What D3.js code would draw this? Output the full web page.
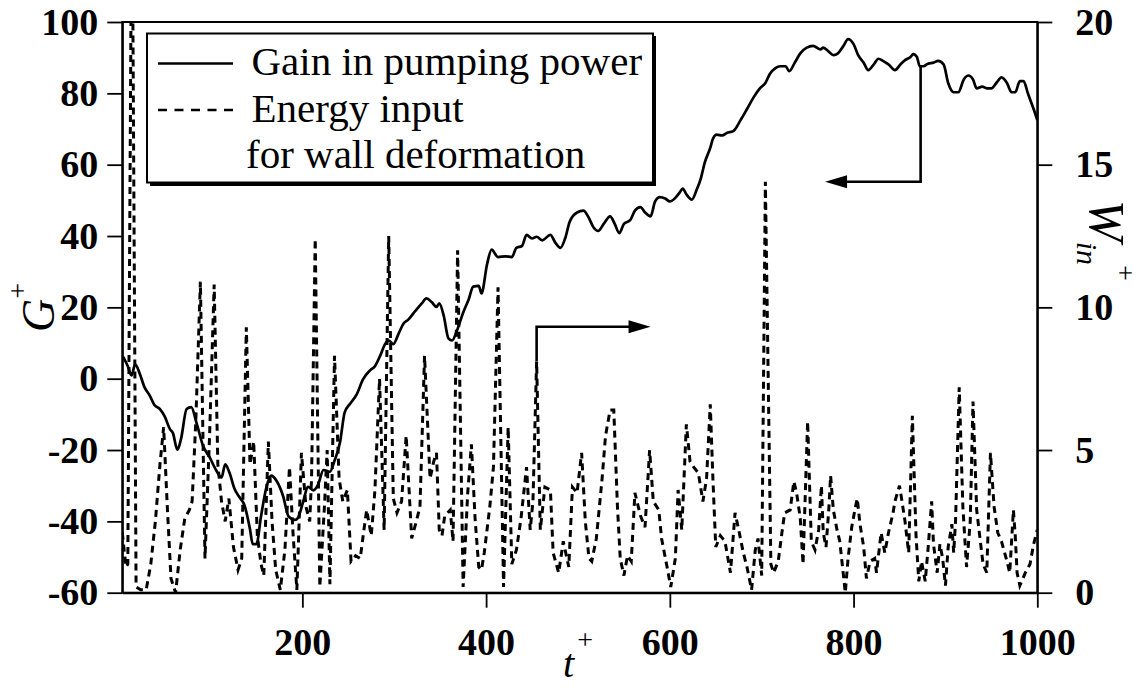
<!DOCTYPE html>
<html>
<head>
<meta charset="utf-8">
<script src="https://cdn.jsdelivr.net/npm/d3@7"></script>
<style>
  body { margin: 0; background: #fff; }
  svg { display: block; }
</style>
</head>
<body>
<div id="chart-container" style="width:1142px;height:688px"></div>
<script>
// axis ticks
const tTicks = [200, 400, 600, 800, 1000]
const gTicks = [-60, -40, -20, 0, 20, 40, 60, 80, 100]
const wTicks = [0, 5, 10, 15, 20]

// gain in pumping power G+ (left axis)
const gainT = [5, 10, 14, 18, 23, 28, 34, 39, 45, 50, 56, 59, 64, 68, 74, 79, 85, 92, 99, 106,
  112, 116, 121, 126, 132, 137, 143, 146, 150, 155, 161, 166, 172, 179, 185, 192, 195, 201,
  206, 212, 217, 223, 230, 235, 241, 246, 252, 259, 266, 274, 279, 285, 290, 294, 299, 305,
  310, 315, 323, 330, 335, 341, 346, 349, 354, 359, 363, 368, 375, 381, 386, 392, 395, 401,
  406, 413, 421, 428, 433, 439, 444, 450, 455, 461, 470, 475, 481, 486, 491, 499, 506, 511,
  517, 522, 528, 535, 540, 545, 550, 557, 562, 568, 573, 579, 584, 589, 595, 600, 606, 611,
  614, 618, 624, 629, 634, 638, 644, 647, 651, 657, 662, 669, 677, 684, 691, 698, 704, 709,
  715, 720, 726, 730, 736, 742, 749, 756, 764, 767, 773, 778, 783, 789, 794, 800, 805, 811,
  816, 822, 827, 832, 838, 845, 851, 856, 862, 865, 869, 872, 876, 881, 887, 892, 898, 903,
  909, 914, 920, 925, 930, 934, 940, 945, 950, 956, 961, 967, 972, 976, 981, 985, 990, 996, 1000]
const gainG = [6.1, 3.5, 0.9, 4, 1.4, -2.3, -4.8, -7.4, -8.5, -10.5, -14.2, -15.2, -19.9, -16.8,
  -8.5, -8, -12.6, -18.9, -22, -25.6, -27.7, -24, -26.6, -30.8, -33.4, -35.5, -42.2, -46.4,
  -46.4, -38.6, -30.3, -27.2, -28.7, -32.9, -38.6, -39.6, -39.1, -34.4, -30.3, -31.3, -29.8,
  -25.6, -26.1, -23, -17.8, -9.5, -7, -4.5, -0.2, 2.4, 3.5, 6.6, 9.7, 10.7, 9.7, 12.8, 15.4,
  16.5, 19, 21.1, 22.5, 21.4, 20.1, 21.1, 17.5, 11.3, 10.7, 13.3, 18.5, 22.2, 25.8, 26, 23.9,
  32, 36.2, 34.1, 34.3, 34.1, 36.7, 37.2, 40.3, 39.3, 39.8, 38.8, 40.3, 38.3, 36.7, 39.3, 44,
  46.6, 47.1, 45.5, 42.4, 41.4, 43.4, 45.5, 43.4, 40.8, 43.4, 44.5, 47.1, 48.1, 46.6, 45.5,
  49.7, 50.9, 50.5, 49.7, 50.7, 52.3, 53.3, 51.7, 50.2, 52.8, 56.4, 60.6, 64.7, 67.3, 68.4,
  68.2, 68.9, 69.4, 72.5, 75.6, 78.8, 81.4, 82.9, 85.5, 87.1, 87.6, 87.6, 86.2, 88.6, 91.2,
  92.8, 93.3, 92.3, 92.8, 91.7, 90.7, 91.2, 93.3, 95.2, 93.8, 90.7, 88.6, 86.5, 88.1, 89.7,
  89.1, 88.1, 86.5, 88.1, 89.3, 90.2, 91, 90.2, 87.6, 87.6, 88.3, 88.6, 89.1, 88.1, 82.9,
  80.3, 80.3, 83.9, 85, 83.9, 81.4, 81.9, 81.4, 81.4, 83.1, 84.5, 82.9, 80.3, 80.3, 83.4,
  83.4, 79.8, 75.6, 72.5]

// energy input for wall deformation W_in+ (right axis)
const energyT = [4, 8, 10, 14.5, 19, 24, 30, 35, 40, 45, 49, 53, 57, 62, 67, 72, 77, 80, 84, 89,
  94, 99, 104, 108, 112, 116, 120, 125, 130, 134, 139, 143, 147, 151, 155, 158, 163, 167, 171,
  176, 181, 186, 190, 194, 199, 204, 208, 210, 214, 219, 224, 227, 230, 235, 240, 244, 249,
  253, 258, 263, 267, 270, 275, 279, 284, 289, 294, 299, 303, 308, 313, 319, 324, 328, 333,
  339, 343, 346, 349, 352, 355, 361, 364, 369, 375, 380, 384, 388, 392, 395, 398, 404, 408,
  413, 419, 424, 428, 433, 438, 444, 448, 451, 455, 459, 464, 470, 473, 479, 484, 490, 494,
  499, 504, 508, 512, 515, 520, 526, 530, 535, 539, 543, 546, 550, 554, 558, 562, 568, 573,
  578, 582, 588, 591, 597, 601, 606, 609, 613, 618, 622, 626, 631, 636, 640, 644, 647, 650,
  655, 660, 666, 671, 675, 680, 684, 689, 693, 696, 700, 704, 710, 713, 718, 722, 725, 731,
  735, 738, 742, 745, 750, 754, 758, 762, 765, 767, 770, 773, 775, 778, 782, 785, 789, 791,
  794, 798, 802, 804, 807, 811, 814, 818, 823, 825, 830, 834, 838, 843, 845, 850, 852, 856,
  860, 864, 868, 871, 874, 878, 881, 885, 887, 891, 894, 897, 900, 903, 907, 909, 911, 915,
  919, 923, 927, 930, 934, 938, 941, 945, 949, 953, 957, 961, 967, 970, 974, 976, 978, 981,
  987, 992, 996, 1000]
const energyW = [2.1, 0.9, 1.0, 26, 0.2, 0.1, 0.1, 1.0, 2.5, 4.5, 5.8, 3.0, 0.5, 0.0, 1.5, 2.6,
  2.9, 3.2, 6.0, 10.9, 1.2, 5.5, 10.8, 4.5, 3.2, 2.5, 3.3, 1.6, 0.8, 1.2, 9.3, 4.5, 5.3, 2.0,
  1.0, 0.6, 5.3, 2.5, 0.8, 0.1, 1.5, 4.4, 2.0, 0.1, 4.9, 3.0, 2.5, 4.0, 12.4, 0.2, 3.0, 5.0,
  0.3, 8.3, 4.0, 3.2, 3.6, 1.1, 1.3, 1.2, 2.2, 2.9, 2.0, 3.6, 7.5, 2.2, 12.5, 3.3, 2.8, 3.2,
  5.5, 1.9, 2.5, 3.0, 8.3, 4.0, 4.6, 4.9, 2.2, 2.0, 2.7, 2.9, 1.8, 12.0, 0.2, 3.5, 5.2, 2.6,
  0.9, 0.8, 1.4, 3.0, 4.4, 10.7, 0.2, 5.8, 1.0, 1.5, 2.6, 4.4, 2.2, 3.2, 8.1, 2.2, 3.7, 3.6,
  1.4, 0.7, 1.8, 0.9, 3.7, 3.5, 4.9, 2.5, 1.2, 1.1, 1.9, 3.9, 5.5, 6.4, 6.4, 3.0, 1.2, 0.6,
  1.3, 1.1, 3.5, 2.7, 2.3, 5.0, 3.2, 2.9, 1.9, 0.9, 0.2, 1.2, 3.6, 2.2, 5.9, 4.6, 4.4, 4.2,
  3.2, 4.0, 6.6, 3.9, 1.6, 2.0, 1.8, 0.7, 2.8, 2.2, 1.4, 0.9, 0.1, 1.5, 1.9, 0.6, 14.4, 1.0,
  0.7, 1.1, 2.1, 2.8, 2.9, 3.9, 3.5, 2.6, 1.0, 6.0, 1.8, 1.5, 2.2, 3.75, 2.1, 1.6, 2.9, 4.1,
  2.9, 2.2, 1.8, 0.6, 0.0, 1.2, 2.3, 3.0, 3.3, 2.4, 1.6, 0.5, 1.1, 1.2, 0.7, 2.1, 1.4, 2.1,
  2.8, 3.2, 3.75, 3.35, 2.5, 1.4, 6.2, 2.0, 0.4, 1.1, 0.4, 1.5, 3.2, 1.7, 0.7, 1.7, 1.2, 0.25,
  1.6, 2.4, 1.4, 2.5, 7.2, 3.0, 0.9, 2.5, 6.7, 2.9, 1.8, 1.0, 0.7, 4.9, 3.0, 2.1, 1.8, 1.1,
  0.7, 2.9, 2.0, 0.7, 0.25, 0.7, 1.0, 1.7, 2.2]

// annotation arrows (data coordinates)
const arrowWT = [455, 455, 579]
const arrowWV = [8.1, 9.32, 9.32]
const arrowGT = [873, 873, 769]
const arrowGV = [87.6, 55.2, 55.2]

const legendLabels = ["Gain in pumping power", "Energy input", "for wall deformation"]

const serif = "'Liberation Serif', 'Tinos', 'Times New Roman', 'DejaVu Serif', serif"
const width = 1142
const height = 688
const plot = { left: 122.3, right: 1037.3, top: 22, bottom: 592.7 }

const svg = d3.select("#chart-container").append("svg")
  .attr("width", width).attr("height", height)

const x = d3.scaleLinear().domain([4, 1000]).range([plot.left, plot.right])
const yG = d3.scaleLinear().domain([-60, 100]).range([plot.bottom, plot.top])
const yW = d3.scaleLinear().domain([0, 20]).range([plot.bottom, plot.top])

svg.append("clipPath").attr("id", "clip")
  .append("rect")
  .attr("x", plot.left).attr("y", plot.top)
  .attr("width", plot.right - plot.left).attr("height", plot.bottom - plot.top)

// axes (plain hyphen minus, no thousands separator)
const plain = (d) => String(d).replace("\u2212", "-")
const tickFont = (g) => g.attr("font-family", null).attr("font-size", null)
  .selectAll("text")
  .style("font-size", "38px").style("font-weight", "bold")

svg.append("g").attr("transform", `translate(${plot.left},0)`)
  .call(d3.axisLeft(yG).tickValues(gTicks).tickFormat(plain)
    .tickSize(15).tickSizeOuter(0).tickPadding(9))
  .call(tickFont)
svg.append("g").attr("transform", `translate(${plot.right},0)`)
  .call(d3.axisRight(yW).tickValues(wTicks).tickFormat(plain)
    .tickSize(15).tickSizeOuter(0).tickPadding(23))
  .call(tickFont)
svg.append("g").attr("transform", `translate(0,${plot.bottom})`)
  .call(d3.axisBottom(x).tickValues(tTicks).tickFormat(plain)
    .tickSize(15).tickSizeOuter(0).tickPadding(20))
  .call(tickFont)

svg.selectAll(".tick line").attr("stroke", "#000").attr("stroke-width", 1.8)
svg.selectAll(".domain").attr("stroke", "#000").attr("stroke-width", 2)

// frame
svg.append("rect")
  .attr("x", plot.left).attr("y", plot.top)
  .attr("width", plot.right - plot.left).attr("height", plot.bottom - plot.top)
  .attr("fill", "none").attr("stroke", "#000").attr("stroke-width", 2)

// series
const gainData = gainT.map((t, i) => ({ t, v: gainG[i] }))
const energyData = energyT.map((t, i) => ({ t, v: energyW[i] }))

const lines = svg.append("g").attr("clip-path", "url(#clip)")
lines.append("path")
  .datum(energyData)
  .attr("fill", "none").attr("stroke", "#000").attr("stroke-width", 3)
  .attr("stroke-dasharray", "7,5")
  .attr("d", d3.line().x((d) => x(d.t)).y((d) => yW(d.v)))
lines.append("path")
  .datum(gainData)
  .attr("fill", "none").attr("stroke", "#000").attr("stroke-width", 2.7)
  .attr("stroke-linejoin", "round")
  .attr("d", d3.line().curve(d3.curveMonotoneX).x((d) => x(d.t)).y((d) => yG(d.v)))

// arrows
function drawArrow(ts, vs, yScale) {
  const pts = ts.map((t, i) => [x(t), yScale(vs[i])])
  const n = pts.length
  const [x1, y1] = pts[n - 1]
  const [x0, y0] = pts[n - 2]
  const len = Math.hypot(x1 - x0, y1 - y0)
  const ux = (x1 - x0) / len
  const uy = (y1 - y0) / len
  const headL = 22
  const headW = 6.5
  const bx = x1 - ux * headL
  const by = y1 - uy * headL
  const shaft = pts.slice(0, n - 1).concat([[bx + ux * 2, by + uy * 2]])
  svg.append("path")
    .attr("d", d3.line()(shaft))
    .attr("fill", "none").attr("stroke", "#000").attr("stroke-width", 2.6)
  svg.append("path")
    .attr("d", d3.line()([[x1, y1], [bx - uy * headW, by + ux * headW], [bx + uy * headW, by - ux * headW]]) + "Z")
    .attr("fill", "#000")
}
drawArrow(arrowWT, arrowWV, yW)
drawArrow(arrowGT, arrowGV, yG)

// legend
const legend = svg.append("g")
legend.append("rect")
  .attr("x", 150).attr("y", 36).attr("width", 506).attr("height", 150).attr("fill", "#000")
legend.append("rect")
  .attr("x", 147).attr("y", 33.5).attr("width", 506).attr("height", 149)
  .attr("fill", "#fff").attr("stroke", "#000").attr("stroke-width", 2)
legend.append("line")
  .attr("x1", 158).attr("x2", 233).attr("y1", 63.5).attr("y2", 63.5)
  .attr("stroke", "#000").attr("stroke-width", 2.7)
legend.append("line")
  .attr("x1", 158).attr("x2", 233).attr("y1", 110).attr("y2", 110)
  .attr("stroke", "#000").attr("stroke-width", 2.7).attr("stroke-dasharray", "9,7.5")
legend.selectAll("text.lab")
  .data(legendLabels)
  .enter().append("text")
  .attr("class", "lab")
  .attr("x", (d, i) => (i === 2 ? 246 : 251.5))
  .attr("y", (d, i) => [75, 121.7, 168.3][i])
  .style("font-size", "41px")
  .text((d) => d)

// axis titles
const tLabel = svg.append("text").attr("x", 563).attr("y", 677)
tLabel.append("tspan").style("font-style", "italic").style("font-size", "40px").text("t")
tLabel.append("tspan").attr("dx", 3).attr("dy", -28).style("font-size", "28px").text("+")

const gLabel = svg.append("text").attr("transform", "translate(54,332) rotate(-90)")
gLabel.append("tspan").style("font-style", "italic").style("font-size", "46px").text("G")
gLabel.append("tspan").attr("dy", -27).style("font-size", "28px").text("+")

const wLabel = svg.append("text").attr("transform", "translate(1090,200) rotate(90)")
wLabel.append("tspan").style("font-style", "italic").style("font-size", "50px").text("W")
wLabel.append("tspan").attr("dy", 13).style("font-style", "italic").style("font-size", "30px").text("in")
wLabel.append("tspan").attr("dy", -39).style("font-size", "28px").text("+")

// serif everywhere
svg.selectAll("text").style("font-family", serif).attr("fill", "#000")
</script>
</body>
</html>
